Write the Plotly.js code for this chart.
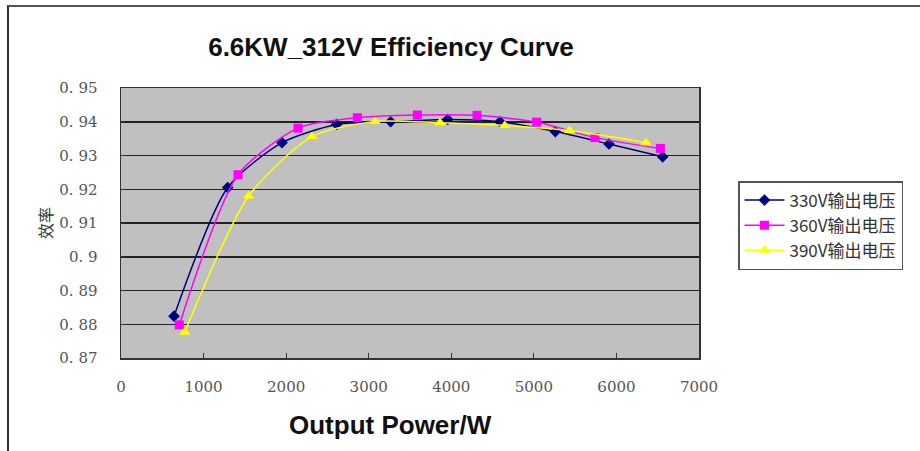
<!DOCTYPE html>
<html>
<head>
<meta charset="utf-8">
<script src="https://cdn.plot.ly/plotly-3.0.1.min.js"></script>
<style>
  html, body { margin: 0; padding: 0; background: #fff; }
  #chart { width: 920px; height: 451px; }
  #frame { position: absolute; left: 7px; top: 5px; width: 930px; height: 460px;
           border-left: 2px solid #333; border-top: 2px solid #555; pointer-events: none; }
</style>
</head>
<body>
<div id="chart"></div>
<div id="frame"></div>
<script>
// ---- data ----
const seriesNames = ['330V输出电压', '360V输出电压', '390V输出电压'];

const power330 = [642, 1292, 1950, 2612, 3266, 3956, 4590, 5260, 5910, 6560];
const eff330   = [0.8824, 0.9205, 0.9338, 0.9392, 0.9400, 0.9407, 0.9400, 0.9371, 0.9334, 0.9296];

const power360 = [706, 1417, 2144, 2862, 3589, 4312, 5034, 5741, 6532];
const eff360   = [0.8798, 0.9243, 0.9381, 0.9412, 0.9420, 0.9419, 0.9399, 0.9353, 0.9321];

const power390 = [771, 1546, 2313, 3080, 3863, 4647, 5434, 6358];
const eff390   = [0.8776, 0.9180, 0.9356, 0.9401, 0.9397, 0.9389, 0.9374, 0.9338];

const xTickVals = [0, 1000, 2000, 3000, 4000, 5000, 6000, 7000];
const xTickText = ['0', '1000', '2000', '3000', '4000', '5000', '6000', '7000'];
const yTickVals = [0.87, 0.88, 0.89, 0.90, 0.91, 0.92, 0.93, 0.94, 0.95];
const yTickText = ['0. 87', '0. 88', '0. 89', '0. 9', '0. 91', '0. 92', '0. 93', '0. 94', '0. 95'];

const traces = [
  { x: power330, y: eff330, name: seriesNames[0], legendgroup: 'a', mode: 'lines+markers',
    line: { color: '#000080', width: 1.5, shape: 'spline', smoothing: 0.7 },
    marker: { symbol: 'diamond', size: 9, color: '#000080' } },
  { x: power360, y: eff360, name: seriesNames[1], legendgroup: 'b', mode: 'lines+markers',
    line: { color: '#ff00ff', width: 1.5, shape: 'spline', smoothing: 0.7 },
    marker: { symbol: 'square', size: 9, color: '#ff00ff' } },
  { x: power390, y: eff390, name: seriesNames[2], legendgroup: 'c', mode: 'lines+markers',
    line: { color: '#ffff00', width: 1.5, shape: 'spline', smoothing: 0.7 },
    marker: { symbol: 'triangle-up', size: 10, color: '#ffff00' } }
];

const tickFont = { family: 'DejaVu Serif, serif', size: 15, color: '#555' };
const boldFont = { family: 'Liberation Sans, Arial, sans-serif', size: 26, color: '#111' };

const layout = {
  width: 920, height: 451,
  margin: { l: 121, r: 221, t: 88, b: 93, pad: 0 },
  paper_bgcolor: '#ffffff',
  plot_bgcolor: '#c0c0c0',
  showlegend: true,
  title: {
    text: '<b>6.6KW_312V Efficiency Curve</b>',
    font: boldFont,
    x: 391 / 920, xref: 'container', xanchor: 'center',
    y: 1 - 47 / 451, yref: 'container', yanchor: 'middle'
  },
  xaxis: {
    range: [0, 7000],
    tickvals: xTickVals, ticktext: xTickText,
    ticks: 'inside', ticklen: 5, tickcolor: '#333', tickwidth: 1,
    tickfont: tickFont, ticklabelstandoff: 14,
    showgrid: false, zeroline: false,
    showline: true, linecolor: '#333', linewidth: 1.5, mirror: true
  },
  yaxis: {
    range: [0.87, 0.95],
    tickvals: yTickVals, ticktext: yTickText,
    ticks: 'inside', ticklen: 4, tickcolor: '#333',
    tickfont: tickFont, ticklabelstandoff: 19,
    showgrid: true, gridcolor: '#222', gridwidth: 1.5,
    zeroline: false,
    showline: true, linecolor: '#333', linewidth: 1.5, mirror: true,
    title: { text: '效率', standoff: 2,
             font: { family: 'Noto Sans CJK SC, sans-serif', size: 16, color: '#333' } }
  },
  annotations: [
    { text: '<b>Output Power/W</b>', xref: 'paper', yref: 'paper',
      x: (390 - 121) / 578, y: (358 - 425) / 270, xanchor: 'center', yanchor: 'middle',
      showarrow: false, font: boldFont }
  ],
  legend: {
    x: (738 - 121) / 578, y: (358 - 181) / 270, xanchor: 'left', yanchor: 'top',
    xref: 'paper', yref: 'paper',
    bgcolor: '#ffffff', bordercolor: '#555', borderwidth: 1.5,
    font: { family: 'Noto Sans CJK SC, sans-serif', size: 17, color: '#333' },
    tracegroupgap: 0, itemwidth: 40
  }
};

Plotly.newPlot('chart', traces, layout, { displayModeBar: false, staticPlot: true });
</script>
</body>
</html>
